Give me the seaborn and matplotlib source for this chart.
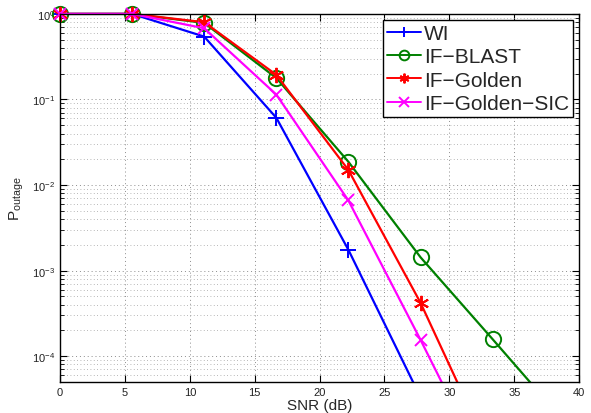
import numpy as np
import pandas as pd
from matplotlib import pyplot as plt
from matplotlib.ticker import LogLocator, FixedLocator, NullFormatter
from matplotlib.transforms import Bbox, TransformedBbox
import seaborn as sns

snr = [0.0, 5.56, 11.11, 16.67, 22.22, 27.78, 33.33, 38.89]

wi = [1.0, 1.0, 0.543, 0.061, 0.00175, 3.3e-5, np.nan, np.nan]
if_blast = [1.0, 1.0, 0.785, 0.178, 0.0187, 0.00143, 1.58e-4, 1.7e-5]
if_golden = [1.0, 1.0, 0.80, 0.194, 0.0150, 4.2e-4, 6.4e-6, np.nan]
if_golden_sic = [1.0, 1.0, 0.68, 0.114, 0.0066, 1.55e-4, 3.2e-6, np.nan]

names = ["WI", "IF\u2212BLAST", "IF\u2212Golden", "IF\u2212Golden\u2212SIC"]
colors = ["#0000ff", "#008000", "#ff0000", "#ff00ff"]
markers = ["+", "o", (6, 2, 0), "x"]

df = pd.concat(
    [
        pd.DataFrame({"snr": snr, "p": vals, "scheme": name})
        for name, vals in zip(names, [wi, if_blast, if_golden, if_golden_sic])
    ]
)

sns.set_style("ticks")
plt.rcParams["font.family"] = ["Liberation Sans", "DejaVu Sans"]
plt.rcParams["mathtext.fontset"] = "custom"
plt.rcParams["mathtext.rm"] = "Liberation Sans"

fig = plt.figure(figsize=(5.91, 4.14), dpi=100)
ax = fig.add_axes([0.1015, 0.075, 0.8785, 0.889])

for name, col, mk in zip(names, colors, markers):
    sub = df[df["scheme"] == name].dropna()
    sns.lineplot(
        data=sub,
        x="snr",
        y="p",
        ax=ax,
        color=col,
        marker=mk,
        markersize=11 if mk != "x" else 9,
        markerfacecolor="none" if mk == "o" else col,
        markeredgecolor=col,
        markeredgewidth=1.4,
        linewidth=1.6,
        label=name,
        errorbar=None,
        estimator=None,
        sort=False,
    )

ax.set_yscale("log")
ax.set_xlim(0, 40)
ax.set_ylim(5e-5, 1)

# let markers on the top/left edges spill over like the original
clip = TransformedBbox(Bbox([[-0.05, 0.0], [1.0, 1.05]]), ax.transAxes)
for ln in ax.get_lines():
    ln.set_clip_box(clip)

ax.xaxis.set_major_locator(FixedLocator(np.arange(0, 41, 5)))
ax.yaxis.set_major_locator(LogLocator(base=10, numticks=10))
ax.yaxis.set_minor_locator(LogLocator(base=10, subs=np.arange(2, 10), numticks=10))
ax.yaxis.set_minor_formatter(NullFormatter())

ax.grid(True, which="major", linestyle=(0, (1, 3)), color="#8c8c8c", linewidth=0.7)
ax.grid(True, which="minor", axis="y", linestyle=(0, (1, 3)), color="#a0a0a0", linewidth=0.6)

ax.tick_params(which="both", direction="in", top=True, right=True, labelsize=8,
               color="black", labelcolor="#222222")
ax.tick_params(which="major", length=5)
ax.tick_params(which="minor", length=3)
for s in ax.spines.values():
    s.set_color("black")
    s.set_linewidth(1.0)

ax.set_xlabel("SNR (dB)", fontsize=11, labelpad=1)
ax.set_ylabel(r"P$_{\rm outage}$", fontsize=11, labelpad=4)

leg = ax.legend(
    loc="upper right",
    fontsize=15,
    frameon=True,
    fancybox=False,
    edgecolor="black",
    framealpha=1,
    borderpad=0.2,
    labelspacing=0.2,
    handlelength=1.6,
    handletextpad=0.15,
    borderaxespad=0.3,
)
leg.get_frame().set_linewidth(1.0)
for h in leg.legend_handles:
    h.set_markersize(7)
    h.set_linewidth(1.4)

plt.savefig("out.png", dpi=100)
